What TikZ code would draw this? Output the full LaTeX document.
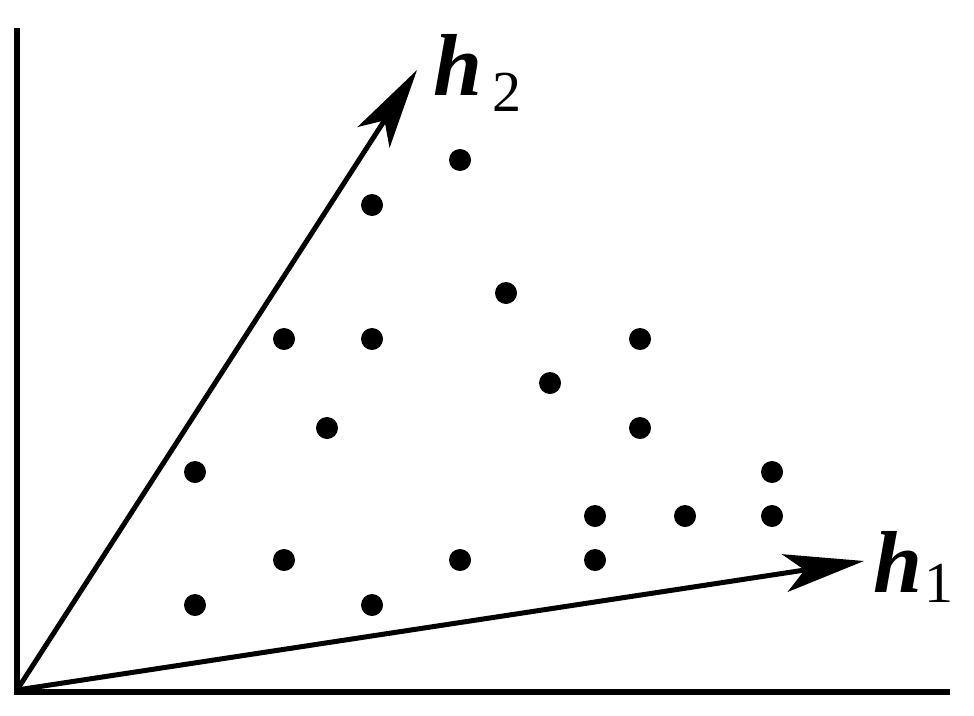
\documentclass[tikz,border=0pt]{standalone}
\usepackage{fontspec}
\setmainfont{Liberation Serif}
\usetikzlibrary{arrows.meta}
\begin{document}
\begin{tikzpicture}[x=1pt,y=-1pt,
  axis/.style={line width=6pt},
  vec/.style={line width=5pt,-{Stealth[length=80pt,width=38pt,inset=20pt]}},
  pt/.style={circle,fill=black,inner sep=0pt,minimum size=22pt},
  lbl/.style={inner sep=0pt,anchor=base west,font=\fontsize{88}{90}\selectfont},
  sub/.style={font=\fontsize{58}{60}\selectfont}]
\useasboundingbox (0,0) rectangle (974,715);
\coordinate (O) at (17,690);
\coordinate (ytop) at (17,28);
\coordinate (xend) at (950,692);
\coordinate (t2) at (417,70);
\coordinate (t1) at (864,561);
\draw[axis] (ytop) -- (17,692) -- (xend);
\draw[vec] (O) -- (t2);
\draw[vec] (O) -- (t1);
\node[lbl] (l2) at (433,95) {\textbf{\textit{h}}\kern10pt\raisebox{-16pt}{\fontsize{58}{60}\selectfont 2}};
\node[lbl] (l1) at (873,592) {\textbf{\textit{h}}\kern2pt\raisebox{-10pt}{\fontsize{58}{60}\selectfont 1}};
\foreach \n/\x/\y in {a/460/160,b/372/205,c/506/293,d/284/339,e/372/339,f/640/339,g/550/383,h/327/428,i/640/428,j/195/472,k/772/472,l/595/516,m/685/516,n/772/516,o/284/560,p/460/560,q/595/560,r/195/605,s/372/605}
  \node[pt] (\n) at (\x,\y) {};
\end{tikzpicture}
\end{document}
